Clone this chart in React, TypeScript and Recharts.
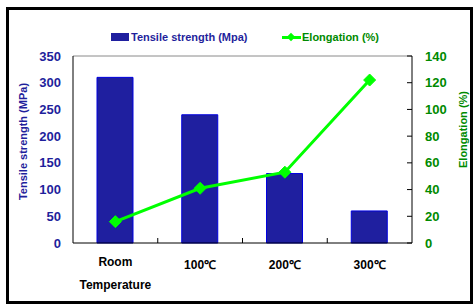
import React from "react"
import {
  ComposedChart,
  Bar,
  Line,
  XAxis,
  YAxis,
  ReferenceLine,
} from "recharts"

const categories = ["Room Temperature", "100℃", "200℃", "300℃"]
const tensileStrength = [310, 240, 130, 60]
const elongation = [16, 41, 53, 122]
const leftTicks = [0, 50, 100, 150, 200, 250, 300, 350]
const rightTicks = [0, 20, 40, 60, 80, 100, 120, 140]

const data = categories.map((name, i) => ({
  name,
  tensile: tensileStrength[i],
  elong: elongation[i],
}))

const FONT = "'Liberation Sans', Arial, sans-serif"
const BLUE_TEXT = "#1f1f9c"
const GREEN_TEXT = "#008a00"

function XTick({ x, y, payload, index }: any) {
  const half = payload?.offset ?? 0
  const parts = String(payload.value).split(" ")
  return (
    <g>
      {index > 0 && (
        <line x1={x - half} x2={x - half} y1={y} y2={y - 5} stroke="#000" />
      )}
      {parts.length > 1 ? (
        <text
          x={x}
          y={y}
          textAnchor="middle"
          fontFamily={FONT}
          fontSize={12}
          fontWeight="bold"
          fill="#000"
        >
          <tspan x={x} dy={23}>{parts[0]}</tspan>
          <tspan x={x} dy={23}>{parts[1]}</tspan>
        </text>
      ) : (
        <text
          x={x}
          y={y + 26}
          textAnchor="middle"
          fontFamily={FONT}
          fontSize={12}
          fontWeight="bold"
          fill="#000"
        >
          {payload.value}
        </text>
      )}
    </g>
  )
}

function Diamond({ cx, cy }: any) {
  if (cx == null || cy == null) return <g />
  const r = 6
  return (
    <polygon
      points={`${cx},${cy - r} ${cx + r},${cy} ${cx},${cy + r} ${cx - r},${cy}`}
      fill="#00ff00"
      stroke="#00ff00"
    />
  )
}

function LeftTitle({ viewBox }: any) {
  const x = viewBox.x + 10
  const y = viewBox.y + viewBox.height / 2 - 8
  return (
    <text
      x={x}
      y={y}
      transform={`rotate(-90 ${x} ${y})`}
      textAnchor="middle"
      dominantBaseline="central"
      fontFamily={FONT}
      fontSize={11}
      fontWeight="bold"
      fill={BLUE_TEXT}
    >
      Tensile strength (MPa)
    </text>
  )
}

function RightTitle({ viewBox }: any) {
  const x = viewBox.x + 51
  const y = viewBox.y + viewBox.height / 2 - 20
  return (
    <text
      x={x}
      y={y}
      transform={`rotate(-90 ${x} ${y})`}
      textAnchor="middle"
      dominantBaseline="central"
      fontFamily={FONT}
      fontSize={11}
      fontWeight="bold"
      fill={GREEN_TEXT}
    >
      Elongation (%)
    </text>
  )
}

export default function App() {
  return (
    <div
      style={{
        position: "absolute",
        left: 0,
        top: 0,
        width: 473,
        height: 305,
        background: "#fff",
        fontFamily: FONT,
      }}
    >
      <div
        style={{
          position: "absolute",
          left: 6,
          top: 7,
          width: 467 - 6,
          height: 297 - 6,
          border: "3px solid #000",
        }}
      />
      <ComposedChart
        width={473}
        height={305}
        data={data}
        margin={{ top: 56, right: 6, bottom: 0, left: 13 }}
        style={{ position: "absolute", left: 0, top: 0 }}
      >
        <XAxis
          dataKey="name"
          height={62}
          interval={0}
          axisLine={{ stroke: "#000" }}
          tickLine={false}
          tickSize={0}
          tickMargin={0}
          tick={<XTick />}
        />
        <YAxis
          yAxisId="left"
          domain={[0, 350]}
          ticks={leftTicks}
          width={60}
          axisLine={{ stroke: "#000" }}
          tickLine={false}
          tickSize={0}
          tickMargin={12}
          tick={{ fill: BLUE_TEXT, fontSize: 13, fontWeight: "bold", fontFamily: FONT }}
          label={(props: any) => <LeftTitle {...props} />}
        />
        <YAxis
          yAxisId="right"
          orientation="right"
          domain={[0, 140]}
          ticks={rightTicks}
          width={55}
          axisLine={{ stroke: "#000" }}
          tickLine={{ stroke: "#000" }}
          tickSize={-5}
          tickMargin={18}
          tick={{ fill: GREEN_TEXT, fontSize: 13, fontWeight: "bold", fontFamily: FONT }}
          label={(props: any) => <RightTitle {...props} />}
        />
        <ReferenceLine yAxisId="left" y={350} stroke="#8a8a8a" />
        <Bar
          yAxisId="left"
          dataKey="tensile"
          barSize={36}
          fill="#1f1f9f"
          stroke="#0000e0"
          isAnimationActive={false}
        />
        <Line
          yAxisId="right"
          dataKey="elong"
          type="linear"
          stroke="#00ff00"
          strokeWidth={3}
          dot={<Diamond />}
          activeDot={false}
          isAnimationActive={false}
        />
      </ComposedChart>
      <div
        style={{
          position: "absolute",
          left: 111,
          top: 33,
          width: 18,
          height: 8,
          background: "#1f1f9f",
        }}
      />
      <div
        style={{
          position: "absolute",
          left: 131,
          top: 30,
          fontSize: 11,
          fontWeight: "bold",
          color: BLUE_TEXT,
          lineHeight: "14px",
          whiteSpace: "nowrap",
        }}
      >
        Tensile strength (Mpa)
      </div>
      <div
        style={{
          position: "absolute",
          left: 282,
          top: 36,
          width: 19,
          height: 3,
          background: "#00ff00",
        }}
      />
      <div
        style={{
          position: "absolute",
          left: 288,
          top: 34,
          width: 6,
          height: 6,
          background: "#00ff00",
          transform: "rotate(45deg)",
        }}
      />
      <div
        style={{
          position: "absolute",
          left: 302,
          top: 30,
          fontSize: 11,
          fontWeight: "bold",
          color: GREEN_TEXT,
          lineHeight: "14px",
          whiteSpace: "nowrap",
        }}
      >
        Elongation (%)
      </div>
    </div>
  )
}
